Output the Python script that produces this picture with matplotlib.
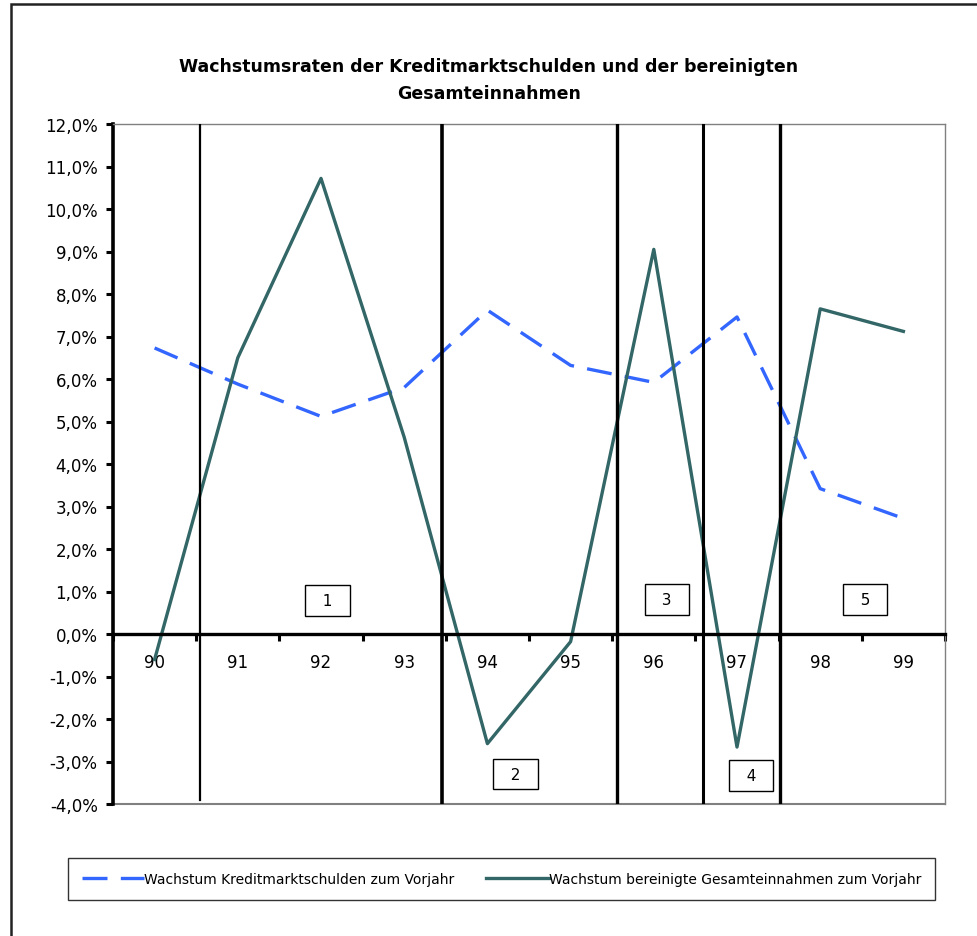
import numpy as np
import matplotlib.pyplot as plt
from matplotlib.patches import Rectangle
from matplotlib.ticker import FuncFormatter

plt.rcParams['font.family'] = ['DejaVu Sans']

years = ["90", "91", "92", "93", "94", "95", "96", "97", "98", "99"]
kredit = [6.73, 5.88, 5.12, 5.80, 7.62, 6.32, 5.92, 7.46, 3.42, 2.72]
einnahmen = [-0.60, 6.50, 10.72, 4.63, -2.58, -0.18, 9.05, -2.66, 7.65, 7.12]

# phase separators (x in category units, y-bottom)
sep_x = [0.55, 3.46, 5.56, 6.59, 7.52]
sep_bottom = [-3.9, -4.0, -4.0, -4.0, -4.0]
sep_width = [1.6, 2.6, 2.4, 2.2, 2.4]

phase_labels = ["1", "2", "3", "4", "5"]
phase_x = [2.08, 4.34, 6.16, 7.17, 8.54]
phase_y = [0.79, -3.30, 0.81, -3.33, 0.81]

title = "Wachstumsraten der Kreditmarktschulden und der bereinigten\nGesamteinnahmen"
leg_labels = ["Wachstum Kreditmarktschulden zum Vorjahr",
              "Wachstum bereinigte Gesamteinnahmen zum Vorjahr"]

W, H = 978, 937
fig = plt.figure(figsize=(W / 100, H / 100), dpi=100)
ax = fig.add_axes([113 / W, 1 - 805 / H, (945 - 113) / W, (805 - 125) / H])

x = np.arange(len(years))
l1, = ax.plot(x, kredit, color='#3366FF', lw=2.4, dashes=(7.5, 4))
l2, = ax.plot(x, einnahmen, color='#336666', lw=2.4)

for sx, sb, sw in zip(sep_x, sep_bottom, sep_width):
    ax.plot([sx, sx], [12, sb], color='black', lw=sw, zorder=4)

for lab, px, py in zip(phase_labels, phase_x, phase_y):
    ax.text(px, py, "  " + lab + "  ", ha='center', va='center', fontsize=11,
            bbox=dict(boxstyle='square,pad=0.5', fc='white', ec='black', lw=1), zorder=5)

ax.set_xlim(-0.5, 9.5)
ax.set_ylim(-4, 12)
ax.set_yticks(np.arange(-4, 13, 1))
ax.yaxis.set_major_formatter(FuncFormatter(lambda v, p: ("%.1f%%" % v).replace('.', ',')))
ax.tick_params(axis='y', direction='out', length=5, width=2.2, labelsize=12, pad=6)

ax.set_xticks(x)
ax.set_xticklabels(years)
ax.set_xticks(np.arange(-0.5, 10, 1), minor=True)
ax.tick_params(axis='x', which='major', length=0, labelsize=12, pad=14)
ax.tick_params(axis='x', which='minor', direction='out', length=5, width=2.2)

ax.spines['bottom'].set_position(('data', 0))
ax.spines['bottom'].set_linewidth(2.4)
ax.spines['bottom'].set_zorder(3)
ax.spines['left'].set_linewidth(2.6)
for s in ['top', 'right']:
    ax.spines[s].set_color('#808080')
    ax.spines[s].set_linewidth(1)
ax.plot([-0.5, 9.5], [-4, -4], color='#808080', lw=1.5, clip_on=False)

fig.text(489 / W, 1 - 80.5 / H, title, ha='center', va='center', fontsize=12.5,
         fontweight='bold', linespacing=1.6)

leg = fig.legend([l1, l2], leg_labels, loc='center', ncol=2, fontsize=10, mode='expand',
                 bbox_to_anchor=(68 / W, 1 - 902 / H, (935 - 68) / W, 44 / H),
                 frameon=True, fancybox=False, handlelength=4.5, handletextpad=0.0,
                 columnspacing=1.0, borderaxespad=0, borderpad=1.0)
leg.get_frame().set_edgecolor('black')
leg.get_frame().set_linewidth(1)

fig.patches.append(Rectangle((11 / W, -0.05), 1.1, 1 - 5 / H + 0.05, transform=fig.transFigure,
                             fill=False, ec='#222222', lw=1.8))

fig.savefig("out.png", dpi=100)
